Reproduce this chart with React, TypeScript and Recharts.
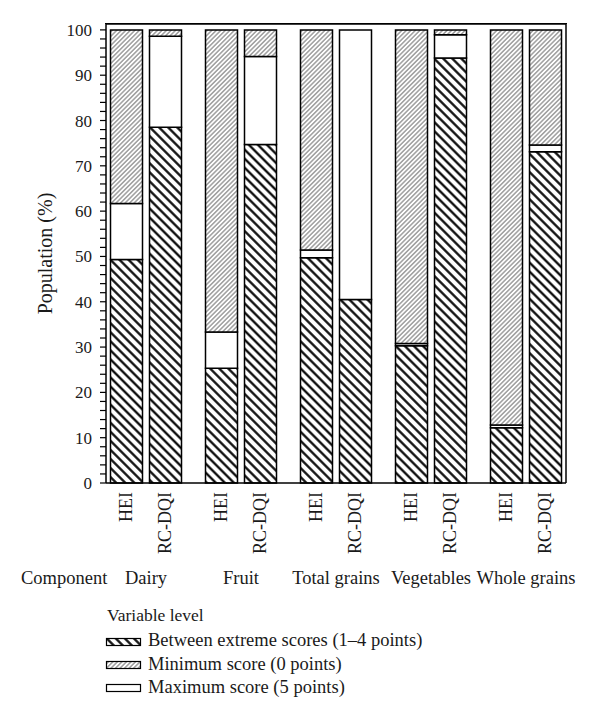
import React from "react";
import {
  BarChart,
  Bar,
  XAxis,
  YAxis,
  ReferenceLine,
  Legend,
} from "recharts";

// components and the two indices
const GROUPS = ["Dairy", "Fruit", "Total grains", "Vegetables", "Whole grains"];
const INDEX_LABELS = ["HEI", "RC-DQI"];

// HEI (% of population)
const HEI_BETWEEN = [49.3, 25.3, 49.7, 30.3, 12.2];
const HEI_MAX = [12.4, 8.0, 1.7, 0.5, 0.6];
const HEI_MIN = [38.3, 66.7, 48.6, 69.2, 87.2];

// RC-DQI (% of population)
const RC_BETWEEN = [78.5, 74.7, 40.5, 93.8, 73.1];
const RC_MAX = [20.1, 19.4, 59.5, 5.1, 1.5];
const RC_MIN = [1.4, 5.9, 0, 1.1, 25.4];

const MAJOR_TICKS = [0, 10, 20, 30, 40, 50, 60, 70, 80, 90, 100];
const MINOR_STEPS = [2, 4, 6, 8];
// the frame sits a little above the 100 tick
const Y_TOP = 101.3;

const LEGEND_ITEMS = [
  { key: "between", label: "Between extreme scores (1–4 points)" },
  { key: "min", label: "Minimum score (0 points)" },
  { key: "max", label: "Maximum score (5 points)" },
];

const FILLS: Record<string, string> = {
  between: "url(#hatchBlack)",
  min: "url(#hatchGrey)",
  max: "#ffffff",
};

const data = GROUPS.map((group, i) => ({
  group,
  heiBetween: HEI_BETWEEN[i],
  heiMax: HEI_MAX[i],
  heiMin: HEI_MIN[i],
  rcBetween: RC_BETWEEN[i],
  rcMax: RC_MAX[i],
  rcMin: RC_MIN[i],
}));

const yTicks = MAJOR_TICKS.flatMap((t) =>
  t === 100 ? [t] : [t, ...MINOR_STEPS.map((s) => t + s)]
);

const FONT = '"Liberation Serif", "Times New Roman", serif';
const INK = "#1a1a1a";
const BAR_SIZE = 32;
const BAR_GAP = 7;
const MARGIN = { top: 24, right: 33, bottom: 0, left: 0 };
const Y_AXIS_W = 106;

const YTick = (props: any) => {
  const { x, y, payload } = props;
  if (payload.value % 10 !== 0) return null;
  return (
    <text
      x={x}
      y={y}
      dy="0.355em"
      textAnchor="end"
      style={{ fontSize: 17, fontFamily: FONT, fill: INK }}
    >
      {payload.value}
    </text>
  );
};

const XTick = (props: any) => {
  const { x, y, payload } = props;
  const half = (BAR_SIZE + BAR_GAP) / 2;
  return (
    <g>
      {INDEX_LABELS.map((lab, i) => {
        const bx = x + (i === 0 ? -half : half) + 5;
        const by = y + 9;
        return (
          <text
            key={lab}
            x={bx}
            y={by}
            transform={`rotate(-90, ${bx}, ${by})`}
            textAnchor="end"
            style={{ fontSize: 18, fontFamily: FONT, fill: INK }}
          >
            {lab}
          </text>
        );
      })}
      <text
        x={x}
        y={y + 101}
        textAnchor="middle"
        style={{ fontSize: 18.5, fontFamily: FONT, fill: INK }}
      >
        {payload.value}
      </text>
    </g>
  );
};

const renderLegend = () => (
  <svg width={420} height={110} style={{ display: "block" }}>
    <text x={7} y={21} style={{ fontSize: 17.5, fontFamily: FONT, fill: INK }}>
      Variable level
    </text>
    {LEGEND_ITEMS.map((item, i) => (
      <g key={item.key}>
        <rect
          x={6.5}
          y={38.5 + i * 23}
          width={34}
          height={7}
          fill={FILLS[item.key]}
          stroke="#000"
          strokeWidth={1.2}
        />
        <text
          x={48}
          y={46 + i * 23.5}
          style={{ fontSize: 18.5, fontFamily: FONT, fill: INK }}
        >
          {item.label}
        </text>
      </g>
    ))}
  </svg>
);

export default function App() {
  return (
    <div
      style={{
        position: "absolute",
        left: 0,
        top: 0,
        width: 600,
        height: 719,
        background: "#fff",
        fontFamily: FONT,
      }}
    >
      <BarChart
        width={600}
        height={719}
        data={data}
        margin={MARGIN}
        barSize={BAR_SIZE}
        barGap={BAR_GAP}
      >
        <defs>
          <pattern
            id="hatchBlack"
            patternUnits="userSpaceOnUse"
            width={6.4}
            height={10}
            patternTransform="rotate(-45)"
          >
            <rect width={6.4} height={10} fill="#fff" />
            <line x1={3.2} y1={-1} x2={3.2} y2={11} stroke="#000" strokeWidth={2.2} />
          </pattern>
          <pattern
            id="hatchGrey"
            patternUnits="userSpaceOnUse"
            width={3.2}
            height={10}
            patternTransform="rotate(45)"
          >
            <rect width={3.2} height={10} fill="#fff" />
            <line x1={1.6} y1={-1} x2={1.6} y2={11} stroke="#8f8f8f" strokeWidth={1.3} />
          </pattern>
        </defs>

        <XAxis
          dataKey="group"
          height={236}
          padding={{ left: -7.5, right: -7.5 }}
          axisLine={{ stroke: "#000", strokeWidth: 1.5 }}
          tickLine={false}
          tickSize={0}
          tickMargin={0}
          interval={0}
          tick={<XTick />}
          label={(p: any) => {
            const vb = p.viewBox || {};
            return (
              <text
                x={21}
                y={(vb.y ?? 483) + 101}
                style={{ fontSize: 18.5, fontFamily: FONT, fill: INK }}
              >
                Component
              </text>
            );
          }}
        />
        <YAxis
          width={Y_AXIS_W}
          domain={[0, Y_TOP]}
          ticks={yTicks}
          interval={0}
          axisLine={{ stroke: "#000", strokeWidth: 1.5 }}
          tickLine={{ stroke: "#000", strokeWidth: 1.2 }}
          tickSize={6}
          tickMargin={8}
          tick={<YTick />}
          label={{
            value: "Population (%)",
            angle: -90,
            position: "insideLeft",
            dx: 40,
            style: { fontSize: 20, fontFamily: FONT, fill: INK, textAnchor: "middle" },
          }}
        />
        <YAxis
          yAxisId="right"
          orientation="right"
          width={1}
          tick={false}
          tickLine={false}
          axisLine={{ stroke: "#000", strokeWidth: 1.5 }}
        />

        <Bar dataKey="heiBetween" name={LEGEND_ITEMS[0].label} stackId="hei" fill={FILLS.between} stroke="#000" strokeWidth={1.5} isAnimationActive={false} />
        <Bar dataKey="heiMax" name={LEGEND_ITEMS[2].label} stackId="hei" fill={FILLS.max} stroke="#000" strokeWidth={1.5} isAnimationActive={false} />
        <Bar dataKey="heiMin" name={LEGEND_ITEMS[1].label} stackId="hei" fill={FILLS.min} stroke="#000" strokeWidth={1.5} isAnimationActive={false} />
        <Bar dataKey="rcBetween" stackId="rc" fill={FILLS.between} stroke="#000" strokeWidth={1.5} legendType="none" isAnimationActive={false} />
        <Bar dataKey="rcMax" stackId="rc" fill={FILLS.max} stroke="#000" strokeWidth={1.5} legendType="none" isAnimationActive={false} />
        <Bar dataKey="rcMin" stackId="rc" fill={FILLS.min} stroke="#000" strokeWidth={1.5} legendType="none" isAnimationActive={false} />

        {/* top edge of the frame */}
        <ReferenceLine y={Y_TOP} stroke="#000" strokeWidth={1.5} ifOverflow="visible" />

        <Legend
          layout="vertical"
          verticalAlign="middle"
          align="center"
          content={renderLegend}
          wrapperStyle={{ left: 100, top: 600, width: 420, height: 110 }}
        />
      </BarChart>
      {/* frame top border, kept above the svg */}
      <div
        style={{
          position: "absolute",
          left: Y_AXIS_W - 0.75,
          top: MARGIN.top - 0.75,
          width: 600 - Y_AXIS_W - MARGIN.right - 1 + 1.5,
          height: 0,
          borderTop: "1.5px solid #000",
          pointerEvents: "none",
          zIndex: 5,
        }}
      />
    </div>
  );
}
